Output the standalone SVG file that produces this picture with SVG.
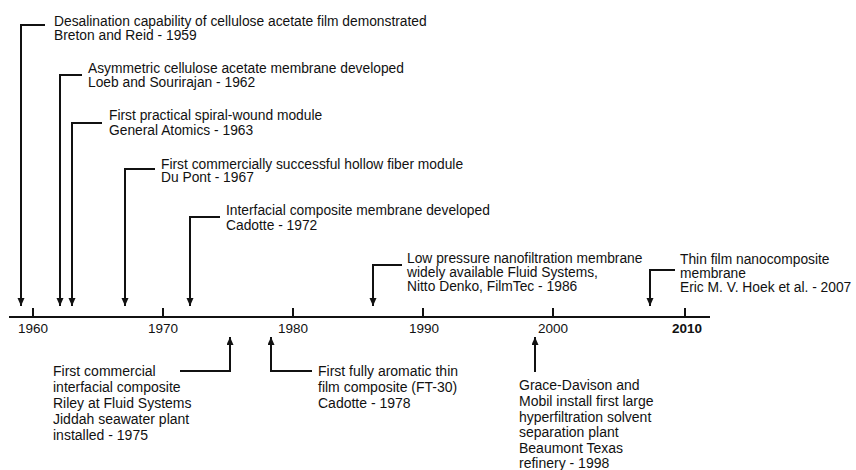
<svg xmlns="http://www.w3.org/2000/svg" width="856" height="470" viewBox="0 0 856 470">
<style>
.t{font-family:"Liberation Sans",Arial,Helvetica,sans-serif;font-size:13.8px;fill:#111}
.b{font-family:"Liberation Sans",Arial,Helvetica,sans-serif;font-size:14px;fill:#111}
.y{font-family:"Liberation Sans",Arial,Helvetica,sans-serif;font-size:13.5px;fill:#111;text-anchor:middle}
.c{fill:none;stroke:#111;stroke-width:2}
</style>
<defs>
<marker id="ah" markerUnits="userSpaceOnUse" markerWidth="9" markerHeight="8" refX="8" refY="3.5" orient="auto">
<path d="M0,0 L8,3.5 L0,7 z" fill="#111"/>
</marker>
</defs>
<rect width="856" height="470" fill="#fff"/>
<g id="axis">
<path class="c" d="M9,317 H710" stroke-width="2.5"/>
<path class="c" d="M33,317 V308 M163,317 V308 M293,317 V308 M423,317 V308 M553,317 V308 M685,317 V308"/>
<text class="y" x="33" y="333">1960</text>
<text class="y" x="163" y="333">1970</text>
<text class="y" x="293" y="333">1980</text>
<text class="y" x="424" y="333">1990</text>
<text class="y" x="553" y="333">2000</text>
<text class="y" x="687" y="333" font-weight="bold">2010</text>
</g>
<g id="connectors">
<path class="c" d="M45,25 H21 V306" marker-end="url(#ah)"/>
<path class="c" d="M82,75 H60 V306" marker-end="url(#ah)"/>
<path class="c" d="M102,123 H72 V306" marker-end="url(#ah)"/>
<path class="c" d="M155,169 H125 V306" marker-end="url(#ah)"/>
<path class="c" d="M220,217 H190 V306" marker-end="url(#ah)"/>
<path class="c" d="M402,265 H373 V306" marker-end="url(#ah)"/>
<path class="c" d="M675,270 H650 V306" marker-end="url(#ah)"/>
<path class="c" d="M180,371 H230 V337" marker-end="url(#ah)"/>
<path class="c" d="M312,371 H271 V337" marker-end="url(#ah)"/>
<path class="c" d="M535,372 V337" marker-end="url(#ah)"/>
</g>
<g id="e1959"><text class="t" x="54" y="26">Desalination capability of cellulose acetate film demonstrated</text><text class="t" x="54" y="39.5">Breton and Reid - 1959</text></g>
<g id="e1962"><text class="t" x="88" y="73" font-size="13.5">Asymmetric cellulose acetate membrane developed</text><text class="t" x="88" y="87" font-size="13.5">Loeb and Sourirajan - 1962</text></g>
<g id="e1963"><text class="t" x="109" y="120">First practical spiral-wound module</text><text class="t" x="109" y="134.5">General Atomics - 1963</text></g>
<g id="e1967"><text class="t" x="161" y="168.5">First commercially successful hollow fiber module</text><text class="t" x="161" y="182">Du Pont - 1967</text></g>
<g id="e1972"><text class="t" x="226" y="215">Interfacial composite membrane developed</text><text class="t" x="226" y="230">Cadotte - 1972</text></g>
<g id="e1986"><text class="t" x="407" y="263">Low pressure nanofiltration membrane</text><text class="t" x="407" y="277">widely available Fluid Systems,</text><text class="t" x="407" y="291">Nitto Denko, FilmTec - 1986</text></g>
<g id="e2007"><text class="t" x="680" y="264">Thin film nanocomposite</text><text class="t" x="680" y="278">membrane</text><text class="t" x="680" y="292">Eric M. V. Hoek et al. - 2007</text></g>
<g id="e1975"><text class="b" x="53" y="376">First commercial</text><text class="b" x="53" y="392">interfacial composite</text><text class="b" x="53" y="408">Riley at Fluid Systems</text><text class="b" x="53" y="424">Jiddah seawater plant</text><text class="b" x="53" y="440">installed - 1975</text></g>
<g id="e1978"><text class="b" x="318" y="376">First fully aromatic thin</text><text class="b" x="318" y="392">film composite (FT-30)</text><text class="b" x="318" y="408">Cadotte - 1978</text></g>
<g id="e1998"><text class="b" x="519" y="390">Grace-Davison and</text><text class="b" x="519" y="406">Mobil install first large</text><text class="b" x="519" y="422">hyperfiltration solvent</text><text class="b" x="519" y="437">separation plant</text><text class="b" x="519" y="453">Beaumont Texas</text><text class="b" x="519" y="468">refinery - 1998</text></g>
</svg>
